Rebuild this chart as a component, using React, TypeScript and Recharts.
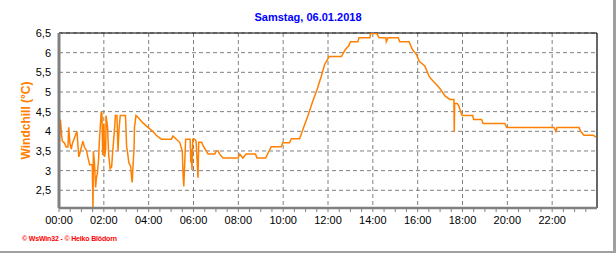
import { LineChart, Line, XAxis, YAxis, CartesianGrid, ReferenceLine } from "recharts";

// Messzeitpunkte (HH:MM) und Windchill-Werte in °C
const times = [
  "00:00", "00:01", "00:04", "00:07", "00:09", "00:15", "00:19", "00:24", "00:26", "00:29",
  "00:33", "00:36", "00:42", "00:48", "00:53", "00:56", "01:00", "01:04", "01:08", "01:14",
  "01:17", "01:22", "01:29", "01:31", "01:32", "01:35", "01:38", "01:40", "01:43", "01:46",
  "01:48", "01:53", "01:55", "01:57", "02:00", "02:02", "02:05", "02:06", "02:10", "02:13",
  "02:17", "02:21", "02:23", "02:29", "02:31", "02:35", "02:38", "02:41", "02:44", "02:58",
  "03:01", "03:03", "03:07", "03:12", "03:14", "03:16", "03:18", "03:21", "03:22", "03:26",
  "03:32", "03:44", "03:58", "04:11", "04:20", "04:34", "05:01", "05:05", "05:14", "05:23",
  "05:30", "05:32", "05:34", "05:39", "05:51", "05:53", "05:54", "05:56", "05:58", "06:03",
  "06:07", "06:12", "06:14", "06:22", "06:25", "06:31", "06:39", "06:57", "07:01", "07:06",
  "07:10", "07:19", "07:59", "08:04", "08:12", "08:21", "08:46", "08:50", "09:13", "09:28",
  "09:55", "09:59", "10:17", "10:22", "10:44", "10:53", "11:06", "11:18", "11:31", "11:42",
  "11:51", "12:03", "12:36", "12:45", "12:56", "13:00", "13:20", "13:23", "13:52", "13:54",
  "14:10", "14:17", "14:35", "14:36", "14:41", "15:08", "15:12", "15:37", "15:46", "15:57",
  "16:04", "16:19", "16:31", "16:41", "16:52", "17:01", "17:13", "17:26", "17:37", "17:38",
  "17:39", "17:46", "17:50", "17:53", "17:56", "17:59", "18:27", "18:30", "18:51", "18:55",
  "19:53", "19:58", "22:05", "22:10", "22:13", "23:12", "23:16", "23:25", "23:50", "23:57",
];

const windchill = [
  4.5, 3.72, 4.3, 3.9, 3.75, 3.7, 3.6, 3.6, 4.1, 3.7,
  3.55, 3.7, 3.85, 4.0, 3.35, 3.45, 3.6, 3.75, 3.6, 3.5,
  3.35, 3.15, 3.15, 2.05, 3.5, 3.2, 2.57, 2.8, 2.95, 3.3,
  3.75, 4.5, 4.45, 3.4, 4.2, 3.35, 3.55, 4.4, 4.1, 3.4,
  3.05, 3.1, 3.4, 4.1, 4.4, 4.4, 3.5, 4.1, 4.4, 4.4,
  3.6, 3.5, 3.2, 3.1, 2.85, 2.7, 3.1, 3.6, 4.1, 4.4,
  4.35, 4.22, 4.1, 4.0, 3.9, 3.8, 3.8, 3.88, 3.8, 3.72,
  3.5, 2.9, 2.6, 3.8, 3.8, 3.2, 3.55, 3.02, 3.8, 3.8,
  3.75, 2.82, 3.72, 3.72, 3.65, 3.55, 3.42, 3.42, 3.5, 3.5,
  3.42, 3.32, 3.32, 3.42, 3.32, 3.42, 3.42, 3.32, 3.32, 3.61,
  3.61, 3.71, 3.71, 3.81, 3.81, 4.05, 4.39, 4.73, 5.07, 5.4,
  5.7, 5.9, 5.9, 6.06, 6.18, 6.28, 6.28, 6.38, 6.38, 6.49,
  6.49, 6.38, 6.38, 6.28, 6.38, 6.38, 6.28, 6.28, 6.08, 5.95,
  5.78, 5.66, 5.39, 5.28, 5.17, 5.07, 4.9, 4.81, 4.81, 3.98,
  4.71, 4.71, 4.65, 4.56, 4.48, 4.4, 4.4, 4.3, 4.3, 4.2,
  4.2, 4.1, 4.1, 4.0, 4.1, 4.1, 4.0, 3.9, 3.9, 3.85,
];

const yTicks = [2.5, 3, 3.5, 4, 4.5, 5, 5.5, 6, 6.5];
const xLabels = ["00:00", "02:00", "04:00", "06:00", "08:00", "10:00", "12:00", "14:00", "16:00", "18:00", "20:00", "22:00"];

const toHours = (t: string) => {
  const [hh, mm] = t.split(":").map(Number);
  return hh + mm / 60;
};

const data = times.map((t, i) => ({ h: toHours(t), v: windchill[i] }));
const majorHours = xLabels.map(toHours);
// kleine Striche alle 30 Minuten
const xTicks: number[] = [];
majorHours.forEach((h) => xTicks.push(h, h + 0.5, h + 1, h + 1.5));

const font = "'Liberation Sans', Arial, sans-serif";
const grey = "#808080";

const YLabel = ({ viewBox }: any) => {
  const cx = viewBox.x + 26;
  const cy = viewBox.y + viewBox.height / 2;
  return (
    <text
      x={cx} y={cy} transform={`rotate(-90 ${cx} ${cy})`}
      textAnchor="middle" dominantBaseline="central"
      fill="#FF8000" fontSize={12} fontWeight="bold" fontFamily={font}
    >
      Windchill  (°C)
    </text>
  );
};

export default function App() {
  return (
    <div
      style={{
        position: "fixed", left: 0, top: 0, width: 616, height: 253,
        boxSizing: "border-box", background: "#fff",
        borderRight: "3px solid #a0a0a0", borderBottom: "2px solid #a0a0a0",
        fontFamily: font,
      }}
    >
      <div
        style={{
          position: "absolute", left: 0, top: 11, width: 616, textAlign: "center",
          fontSize: 11, lineHeight: "13px", fontWeight: "bold", color: "#0000FF",
        }}
      >
        Samstag, 06.01.2018
      </div>
      <div style={{ position: "absolute", left: 0, top: 0 }}>
        <LineChart width={616} height={253} data={data} margin={{ top: 33, right: 19, left: 0, bottom: 15 }}>
          <CartesianGrid
            stroke={grey} strokeDasharray="4 3"
            horizontalValues={yTicks} verticalValues={majorHours}
          />
          <XAxis
            dataKey="h" type="number" domain={[0, 24]} ticks={xTicks} interval={0}
            height={30} tickSize={4} tickMargin={4}
            tickFormatter={(h: number) => xLabels.find((l) => toHours(l) === h) ?? ""}
            tick={{ fontSize: 11, fill: "#000", fontFamily: font }}
            tickLine={{ stroke: grey }}
            axisLine={{ stroke: grey, strokeWidth: 2.5 }}
          />
          <YAxis
            type="number" domain={[2.05, 6.5]} allowDataOverflow ticks={yTicks} interval={0}
            width={59} tickLine={false}
            tickFormatter={(v: number) => String(v).replace(".", ",")}
            tick={{ fontSize: 11, fill: "#000", fontFamily: font }}
            axisLine={{ stroke: grey, strokeWidth: 3 }}
            label={<YLabel />}
          />
          <ReferenceLine y={6.5} stroke="#000" strokeWidth={1.2} />
          <ReferenceLine x={24} stroke="#000" strokeWidth={1.2} />
          <Line
            type="linear" dataKey="v" stroke="#FF8000" strokeWidth={1.5}
            dot={false} isAnimationActive={false}
          />
        </LineChart>
      </div>
      <svg width={616} height={253} style={{ position: "absolute", left: 0, top: 0, pointerEvents: "none" }}>
        <text x={22} y={241} fontSize={7} fontWeight="bold" fill="#FF0000" fontFamily={font} textLength={95}>
          © WsWin32  -  © Heiko Blödorn
        </text>
      </svg>
    </div>
  );
}
